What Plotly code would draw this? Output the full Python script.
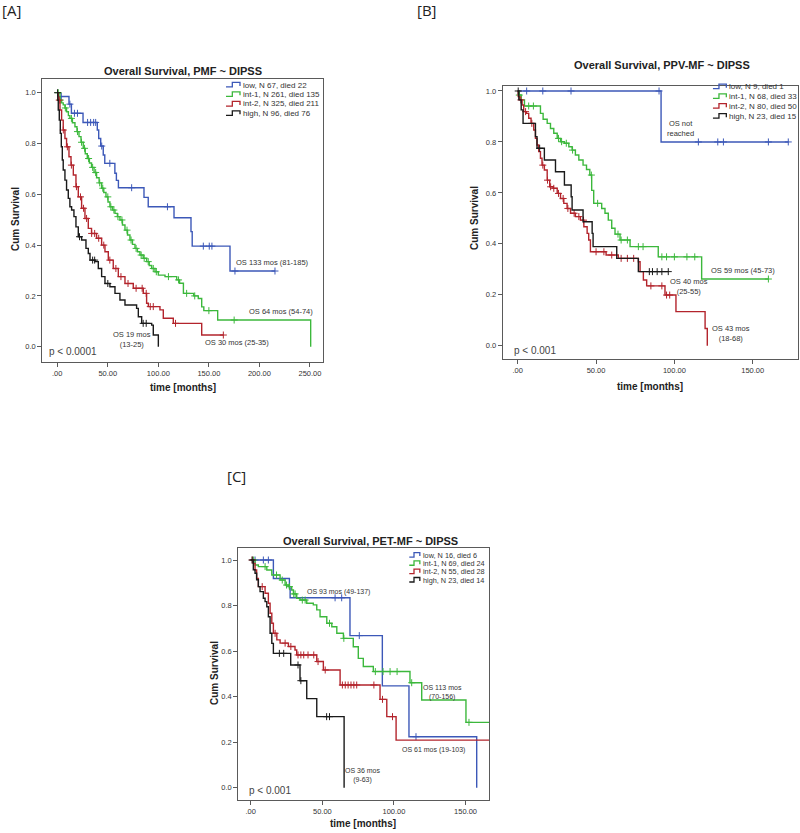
import numpy as np
import plotly.graph_objects as go

W, H = 800, 833
FONT = "Liberation Sans, Arial, sans-serif"

COLORS = {"low": "#3c58b8", "int-1": "#3cb83c", "int-2": "#b3242c", "high": "#1a1a1a"}
GROUPS = ["low", "int-1", "int-2", "high"]

# ---------------- Panel A: PMF ----------------
A_legend = ["low, N 67, died 22", "int-1, N 261, died 135", "int-2, N 325, died 211", "high, N 96, died 76"]
A_low_t = [0, 0.5, 11.6, 14, 25.5, 39.6, 41, 43, 45.5, 47, 57, 58.5, 60.5, 85.8, 90, 115.5, 132.3, 133.5, 170.9, 215.4]
A_low_s = [1.0, 0.985, 0.955, 0.919, 0.883, 0.853, 0.82, 0.79, 0.755, 0.722, 0.683, 0.655, 0.626, 0.588, 0.551, 0.508, 0.453, 0.396, 0.298, 0.298]
A_low_c = [4, 12.5, 17, 20, 30, 33, 36, 38, 44, 52, 73.6, 109, 144.5, 150.4, 153, 175.8, 215.4]

A_int1_t = [0, 2.7, 4.3, 5.9, 7.6, 9.2, 11, 12.5, 15, 17.5, 19.5, 21.5, 23.5, 25.7, 27.7, 29.7, 31.8, 33.9, 36.4,
            38.9, 41.4, 43.9, 46, 48.2, 50.2, 52.1, 54.6, 57.1, 59.5, 62.0, 64.5, 67.0, 69.5, 71.9, 74.4, 76.9,
            79.3, 81.8, 85, 88.4, 91, 93.4, 96.7, 100, 106.6, 118.2, 121, 124.8, 135, 139.5, 142.9, 145, 158.7, 250.7]
A_int1_s = [1.0, 0.971, 0.96, 0.952, 0.94, 0.925, 0.91, 0.899, 0.882, 0.866, 0.847, 0.827, 0.805, 0.781, 0.76, 0.741,
            0.723, 0.706, 0.686, 0.665, 0.645, 0.624, 0.607, 0.59, 0.57, 0.551, 0.538, 0.525, 0.512, 0.499, 0.479,
            0.459, 0.44, 0.42, 0.403, 0.387, 0.374, 0.361, 0.348, 0.335, 0.32, 0.308, 0.295, 0.282, 0.276, 0.263,
            0.25, 0.21, 0.2, 0.19, 0.157, 0.142, 0.105, 0.0]
A_int1_c = [1, 3, 8, 14, 20, 24, 27, 31, 35, 38, 42, 45, 50, 53, 56, 60, 64, 69, 73, 78, 83, 86, 90, 95, 98, 110,
            120, 128, 136, 150, 175]

A_int2_t = [0, 1.0, 2.7, 4.3, 5.9, 7.6, 9.2, 11.6, 13.6, 15.9, 18.5, 20.8, 24.1, 27.4, 30.7, 33.9, 38.9, 43.9, 47.2,
            50.5, 55.4, 60.4, 67.0, 75.2, 85.1, 88.4, 90.1, 101.6, 104.9, 114.8, 142.9, 164.3]
A_int2_s = [1.0, 0.971, 0.932, 0.892, 0.853, 0.82, 0.787, 0.748, 0.715, 0.676, 0.63, 0.59, 0.545, 0.505, 0.466,
            0.446, 0.427, 0.4, 0.374, 0.341, 0.308, 0.276, 0.249, 0.23, 0.21, 0.171, 0.158, 0.145, 0.112, 0.092,
            0.046, 0.046]
A_int2_c = [2, 6, 10, 14, 19, 23, 26, 29, 34, 37, 41, 46, 52, 58, 63, 70, 78, 84, 88, 92, 95, 117, 164.3]

A_high_t = [0, 0.5, 1.0, 2.0, 3.0, 4.0, 5.0, 5.9, 7.6, 9.2, 10.9, 12.5, 14.2, 16.5, 18.5, 20.8, 24.1, 28.4, 30.7,
            32.4, 37.3, 40.6, 43.9, 47.2, 52.1, 57.1, 62.0, 67.0, 78.5, 80.2, 83.5, 93.4, 95.0, 100.0]
A_high_s = [1.0, 0.971, 0.932, 0.892, 0.84, 0.787, 0.735, 0.696, 0.656, 0.617, 0.584, 0.551, 0.538, 0.512, 0.472,
            0.433, 0.42, 0.387, 0.367, 0.341, 0.335, 0.308, 0.276, 0.249, 0.236, 0.21, 0.184, 0.164, 0.151, 0.118,
            0.092, 0.085, 0.046, 0.0]
A_high_c = [0.3, 22, 35, 37, 50, 85, 88]

# ---------------- Panel B: PPV-MF ----------------
B_legend = ["low, N 9, died 1", "int-1, N 68, died 33", "int-2, N 80, died 50", "high, N 23, died 15"]
B_low_t = [0, 91.5, 172.7]
B_low_s = [1.0, 0.80, 0.80]
B_low_c = [5.7, 16, 34, 90.2, 115.3, 127.7, 131.3, 160, 172.7]

B_int1_t = [0, 0.7, 2.2, 4.3, 14.5, 16.2, 18.8, 20.9, 23.0, 25.2, 27.3, 29.8, 32.6, 34.7, 36.8, 39.0, 41.7, 43.9,
            46.0, 47.2, 48.5, 53.6, 55.7, 57.8, 60.0, 62.1, 65.3, 71.7, 89.7, 117.4, 160]
B_int1_s = [1.0, 0.984, 0.965, 0.941, 0.912, 0.889, 0.873, 0.853, 0.834, 0.814, 0.801, 0.795, 0.781, 0.768, 0.749,
            0.729, 0.709, 0.692, 0.67, 0.61, 0.559, 0.539, 0.52, 0.493, 0.461, 0.438, 0.415, 0.389, 0.349, 0.262,
            0.262]
B_int1_c = [1, 7, 10, 26, 28, 31, 35, 47, 51, 64, 66, 70, 77, 80, 92, 95, 100, 108, 113, 160]

B_int2_t = [0, 0.3, 1.3, 2.8, 3.8, 5.5, 7.0, 8.5, 10.2, 11.3, 12.3, 13.4, 14.5, 15.5, 17.0, 18.8, 20.4, 22.6, 25.2,
            27.3, 29.4, 31.5, 33.7, 36.8, 40.0, 42.2, 44.3, 45.3, 46.4, 56.4, 64.2, 77.0, 78.1, 80.2, 82.3, 94.0,
            101.0, 119.6, 121.0]
B_int2_s = [1.0, 0.978, 0.965, 0.945, 0.919, 0.912, 0.893, 0.873, 0.847, 0.814, 0.788, 0.762, 0.736, 0.709, 0.69,
            0.65, 0.624, 0.618, 0.598, 0.578, 0.559, 0.539, 0.52, 0.507, 0.493, 0.467, 0.441, 0.415, 0.369, 0.356,
            0.343, 0.33, 0.291, 0.258, 0.235, 0.199, 0.134, 0.068, 0.0]
B_int2_c = [2, 5, 9, 16, 19, 21, 23, 26, 29, 32, 36, 39, 42, 50, 55, 60, 66, 70, 74, 85, 92, 95, 97]

B_high_t = [0, 0.7, 2.2, 3.4, 11.3, 12.3, 17.0, 24.1, 29.8, 34.1, 34.7, 41.7, 47.5, 48.1, 63.2, 77.0, 96.1]
B_high_s = [1.0, 0.965, 0.926, 0.873, 0.821, 0.775, 0.729, 0.683, 0.631, 0.585, 0.533, 0.487, 0.441, 0.389, 0.343,
            0.291, 0.291]
B_high_c = [0.3, 14, 84, 86, 89, 92, 96.1]

# ---------------- Panel C: PET-MF ----------------
C_legend = ["low, N 16, died 6", "int-1, N 69, died 24", "int-2, N 55, died 28", "high, N 23, died 14"]
C_low_t = [0, 15.8, 27.0, 27.5, 69.3, 91.9, 110.5, 157.8]
C_low_s = [1.0, 0.919, 0.877, 0.834, 0.668, 0.447, 0.224, 0.0]
C_low_c = [3, 8.8, 12.3, 58.9, 63.5, 75.8, 115.4]

C_int1_t = [0, 3.0, 5.3, 11.2, 14.7, 20.5, 24.0, 26.3, 28.6, 29.8, 32.1, 34.4, 39.1, 43.7, 46.1, 48.4, 53.1, 56.6,
            60.1, 64.7, 71.6, 75.1, 78.6, 85.6, 111.2, 119.4, 150.3, 170]
C_int1_s = [1.0, 0.978, 0.971, 0.956, 0.934, 0.912, 0.89, 0.883, 0.868, 0.851, 0.832, 0.824, 0.81, 0.803, 0.781,
            0.751, 0.722, 0.707, 0.678, 0.656, 0.619, 0.568, 0.532, 0.51, 0.461, 0.385, 0.287, 0.287]
C_int1_c = [2, 10, 18, 22, 25, 27, 30, 31, 36, 38, 55, 65, 87, 92.4, 97.3, 102.2, 112.4, 152.4]

C_int2_t = [0, 1.8, 3.0, 4.1, 5.3, 10.0, 12.3, 13.5, 14.7, 15.8, 18.2, 20.5, 26.3, 30.9, 32.1, 46.1, 50.7, 62.4,
            90.3, 95.0, 101.5, 170]
C_int2_s = [1.0, 0.985, 0.956, 0.919, 0.883, 0.854, 0.81, 0.766, 0.722, 0.678, 0.649, 0.635, 0.62, 0.605, 0.583,
            0.554, 0.517, 0.451, 0.388, 0.312, 0.209, 0.209]
C_int2_c = [1, 8, 17, 24, 28, 33, 35, 37, 40, 44, 47, 52, 64, 66, 68, 70, 72, 74, 86, 92, 99]

C_high_t = [0, 1.8, 3.0, 4.1, 5.3, 6.5, 8.8, 10.0, 11.2, 12.3, 13.5, 14.7, 15.8, 27.9, 34.4, 39.1, 46.1, 65.2]
C_high_s = [1.0, 0.957, 0.942, 0.913, 0.883, 0.861, 0.832, 0.817, 0.795, 0.751, 0.678, 0.634, 0.59, 0.539, 0.47,
            0.391, 0.312, 0.0]
C_high_c = [1, 20, 23, 33, 35, 53, 55]

Y_TICKS = [0, 0.2, 0.4, 0.6, 0.8, 1.0]
Y_TICKTEXT = ["0.0", "0.2", "0.4", "0.6", "0.8", "1.0"]
A_XTICKS = [0, 50, 100, 150, 200, 250]
BC_XTICKS = [0, 50, 100, 150]
A_XTICKTEXT = [".00", "50.00", "100.00", "150.00", "200.00", "250.00"]
BC_XTICKTEXT = [".00", "50.00", "100.00", "150.00"]

TITLES = ["Overall Survival, PMF ~ DIPSS", "Overall Survival, PPV-MF ~ DIPSS", "Overall Survival, PET-MF ~ DIPSS"]
PVALS = ["p < 0.0001", "p < 0.001", "p < 0.001"]

panels = [
    dict(xa="x", ya="y",
         curves=[(A_low_t, A_low_s, A_low_c), (A_int1_t, A_int1_s, A_int1_c),
                 (A_int2_t, A_int2_s, A_int2_c), (A_high_t, A_high_s, A_high_c)]),
    dict(xa="x2", ya="y2",
         curves=[(B_low_t, B_low_s, B_low_c), (B_int1_t, B_int1_s, B_int1_c),
                 (B_int2_t, B_int2_s, B_int2_c), (B_high_t, B_high_s, B_high_c)]),
    dict(xa="x3", ya="y3",
         curves=[(C_low_t, C_low_s, C_low_c), (C_int1_t, C_int1_s, C_int1_c),
                 (C_int2_t, C_int2_s, C_int2_c), (C_high_t, C_high_s, C_high_c)]),
]

fig = go.Figure()
for p in panels:
    for g, (t, s, c) in zip(GROUPS, p["curves"]):
        col = COLORS[g]
        fig.add_trace(go.Scatter(x=t, y=s, mode="lines", line=dict(color=col, width=1.4, shape="hv"),
                                 xaxis=p["xa"], yaxis=p["ya"], showlegend=False, name=g, hoverinfo="skip"))
        ta, sa = np.array(t), np.array(s)
        idx = np.clip(np.searchsorted(ta, np.array(c), side="right") - 1, 0, len(sa) - 1)
        fig.add_trace(go.Scatter(x=c, y=sa[idx], mode="markers",
                                 marker=dict(symbol="cross-thin", size=5, line=dict(color=col, width=1)),
                                 xaxis=p["xa"], yaxis=p["ya"], showlegend=False, name=g, hoverinfo="skip"))


def px2paper(px, py):
    return px / W, 1 - py / H


axis_common = dict(showline=True, mirror=True, linecolor="#5a5a5a", linewidth=1, ticks="outside", ticklen=4,
                   tickcolor="#5a5a5a", showgrid=False, zeroline=False,
                   tickfont=dict(family=FONT, size=7.5, color="#333"))

# pixel boxes: left, right, top, bottom
boxes = [(42.3, 323.3, 79, 361.7), (502.7, 798.3, 86, 359), (238.3, 489.3, 547.7, 800)]
xranges = [[-14.8, 263.2], [-9.6, 179.1], [-8.7, 166.6]]
yranges = [[-0.059, 1.054], [-0.052, 1.0196], [-0.054, 1.054]]
xticks = [(A_XTICKS, A_XTICKTEXT), (BC_XTICKS, BC_XTICKTEXT), (BC_XTICKS, BC_XTICKTEXT)]

layout = dict(width=W, height=H, margin=dict(l=0, r=0, t=0, b=0), paper_bgcolor="white", plot_bgcolor="white",
              template="none", showlegend=False, font=dict(family=FONT))
for i, (bx, xr, yr, (tv, tt)) in enumerate(zip(boxes, xranges, yranges, xticks)):
    sfx = "" if i == 0 else str(i + 1)
    l, r, t_, b = bx
    layout["xaxis" + sfx] = dict(axis_common, domain=[l / W, r / W], range=xr, tickvals=tv, ticktext=tt,
                                 anchor="y" + sfx)
    layout["yaxis" + sfx] = dict(axis_common, domain=[1 - b / H, 1 - t_ / H], range=yr, tickvals=Y_TICKS,
                                 ticktext=Y_TICKTEXT, anchor="x" + sfx)
fig.update_layout(**layout)

ann = []
shapes = []


def ptext(px, py, text, size, bold=False, xanchor="center", color="#222", angle=0, family=FONT):
    x, y = px2paper(px, py)
    ann.append(dict(x=x, y=y, xref="paper", yref="paper", text=("<b>%s</b>" % text) if bold else text,
                    showarrow=False, xanchor=xanchor, yanchor="middle", textangle=angle,
                    font=dict(family=family, size=size, color=color)))


# panel labels
ptext(0, 10, "[A]", 15, xanchor="left", family="Open Sans, Liberation Sans")
ptext(415, 10, "[B]", 15, xanchor="left", family="Open Sans, Liberation Sans")
ptext(225, 476, "[C]", 15, xanchor="left", family="Open Sans, Liberation Sans")

# titles
ptext(182.7, 70.7, TITLES[0], 11, bold=True)
ptext(661.7, 65, TITLES[1], 11, bold=True)
ptext(370, 541, TITLES[2], 11, bold=True)

# axis titles
ptext(183, 387, "time [months]", 10, bold=True)
ptext(650, 386.5, "time [months]", 10, bold=True)
ptext(363, 823, "time [months]", 10, bold=True)
ptext(15, 219, "Cum Survival", 10, bold=True, angle=-90)
ptext(474, 218, "Cum Survival", 10, bold=True, angle=-90)
ptext(214, 673, "Cum Survival", 10, bold=True, angle=-90)

# p values
ptext(47, 351, PVALS[0], 10, xanchor="left", color="#444")
ptext(511.7, 350.7, PVALS[1], 10, xanchor="left", color="#444")
ptext(246.7, 790, PVALS[2], 10, xanchor="left", color="#444")

# legends (text + small step glyph)
legend_specs = [(A_legend, 226, 240.7, [85, 94.3, 104, 113.3], 8),
                (B_legend, 713, 727, [86.7, 96.3, 106.2, 116.2], 8),
                (C_legend, 409.3, 420.5, [555, 563.3, 571.7, 580], 7.3)]
for labels, gx0, tx, ys, fs in legend_specs:
    for g, lab, py in zip(GROUPS, labels, ys):
        ptext(tx, py, lab, fs, xanchor="left", color="#333")
        gw = tx - gx0 - 0.7
        pts = [(gx0, py + 2), (gx0 + gw * 0.45, py + 2), (gx0 + gw * 0.45, py - 2.5), (gx0 + gw, py - 2.5),
               (gx0 + gw, py + 1)]
        path = "M " + " L ".join("%.4f,%.4f" % px2paper(a, b) for a, b in pts)
        shapes.append(dict(type="path", path=path, xref="paper", yref="paper",
                           line=dict(color=COLORS[g], width=1.3)))


def dtext(xref, yref, x, y, text, xanchor="center", size=7.5):
    ann.append(dict(x=x, y=y, xref=xref, yref=yref, text=text, showarrow=False, xanchor=xanchor,
                    yanchor="middle", align="center", font=dict(family=FONT, size=size, color="#333")))


# median OS annotations (data coordinates)
dtext("x", "y", 175, 0.33, "OS 133 mos (81-185)", "left")
dtext("x", "y", 188, 0.137, "OS 64 mos (54-74)", "left")
dtext("x", "y", 144, 0.015, "OS 30 mos (25-35)", "left")
dtext("x", "y", 74, 0.027, "OS 19 mos<br>(13-25)")

dtext("x2", "y2", 103.6, 0.853, "OS not<br>reached")
dtext("x2", "y2", 122.1, 0.294, "OS 59 mos (45-73)", "left")
dtext("x2", "y2", 109.3, 0.233, "OS 40 mos<br>(25-55)")
dtext("x2", "y2", 136.3, 0.050, "OS 43 mos<br>(18-68)")

dtext("x3", "y3", 37.9, 0.861, "OS 93 mos (49-137)", "left", 7)
dtext("x3", "y3", 133.6, 0.420, "OS 113 mos<br>(70-156)", size=7)
dtext("x3", "y3", 104.3, 0.166, "OS 61 mos (19-103)", "left", 7)
dtext("x3", "y3", 78.4, 0.054, "OS 36 mos<br>(9-63)", size=7)

fig.update_layout(annotations=ann, shapes=shapes)
fig.write_html("out.html", config={"displayModeBar": False},
               post_script="document.body.style.margin='0';document.body.style.padding='0';"
                           "document.documentElement.style.overflow='hidden';")
